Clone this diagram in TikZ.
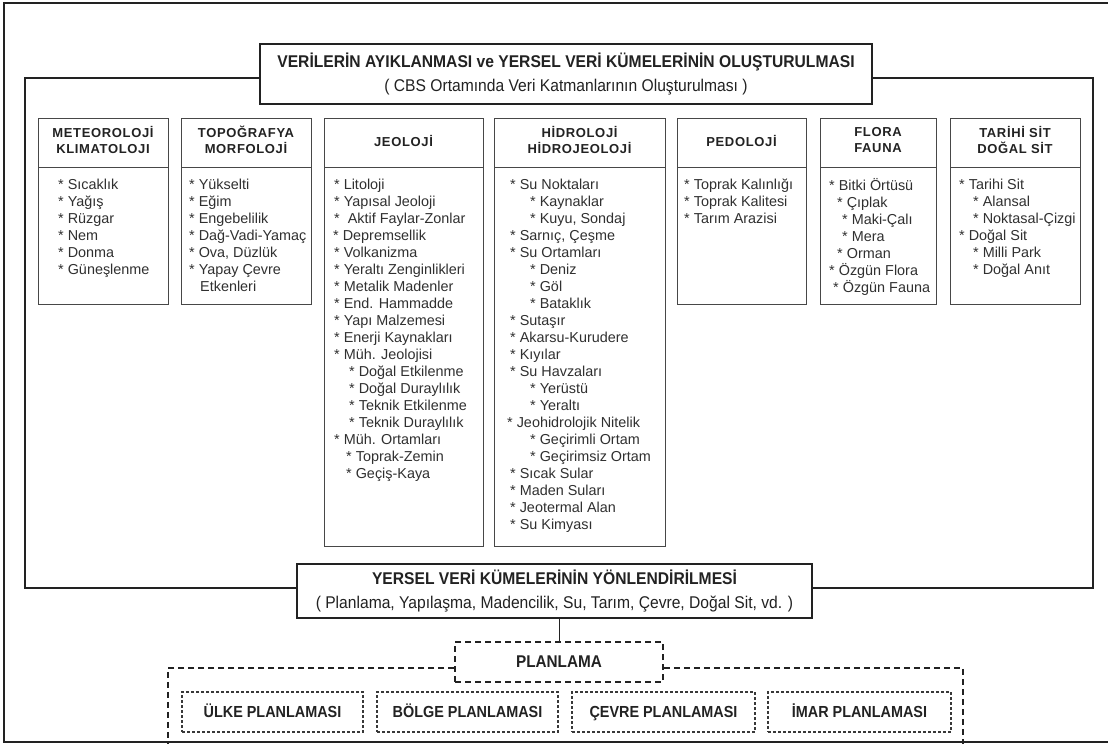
\documentclass[tikz,border=0pt]{standalone}
\usepackage{fontspec}
\setmainfont{Liberation Sans}
\newfontfamily\narrowfont[FakeStretch=0.92]{Liberation Sans}
\newfontfamily\planfont[FakeStretch=0.9]{Liberation Sans}
\newfontfamily\hdrfont[LetterSpace=5]{Liberation Sans}
\usetikzlibrary{calc}
\definecolor{ink}{HTML}{222222}
\definecolor{boxc}{HTML}{474747}
\definecolor{txt}{HTML}{303030}
\newcommand\fl{\rule{0pt}{11pt}}
\newcommand\ind[1]{\hspace*{#1pt}}
\tikzset{
  colbox/.style={draw=boxc, line width=0.9pt, fill=white, inner sep=0pt, anchor=north west},
  hdr/.style={font=\hdrfont\bfseries\fontsize{13}{15.5}\selectfont, align=center, text=ink, inner sep=0pt},
  lst/.style={anchor=north west, inner sep=0pt, align=left, text=txt, font=\fontsize{14.4}{17}\selectfont},
  mainbox/.style={draw=ink, line width=1.8pt, fill=white, align=center, text=ink, inner sep=0pt, font=\narrowfont\fontsize{17}{24}\selectfont},
  bigdash/.style={draw=ink, line width=1.8pt, dash pattern=on 6pt off 4pt},
  smalldash/.style={draw=ink!90, line width=1.2pt, dash pattern=on 3pt off 2pt},
  planbox/.style={bigdash, fill=white, inner sep=0pt, text=ink, font=\planfont\bfseries\fontsize{17}{20}\selectfont},
  subbox/.style={smalldash, fill=white, inner sep=0pt, minimum height=40pt, text height=11.5pt, text depth=0pt, text=ink, font=\planfont\bfseries\fontsize{16}{19}\selectfont},
  divline/.style={draw=boxc, line width=0.9pt}
}
\begin{document}
\begin{tikzpicture}[x=1pt,y=-1pt]
\useasboundingbox (0,0) rectangle (1108,744);
% outer border of the screenshot
\draw[ink, line width=1.5pt] (1108,3) -- (4,3) -- (4,742) -- (1108,742);
% large frame
\draw[ink, line width=2pt] (25,78) rectangle (1093,588);
% title box
\node[mainbox, minimum width=612pt, minimum height=60pt] (title) at (566,74)
  {{\bfseries VERİLERİN AYIKLANMASI ve YERSEL VERİ KÜMELERİNİN OLUŞTURULMASI}\\( CBS Ortamında Veri Katmanlarının Oluşturulması )};
% columns
\node[colbox, minimum width=130pt, minimum height=186pt] (c1) at (38,118) {};
\node[colbox, minimum width=130pt, minimum height=186pt] (c2) at (181,118) {};
\node[colbox, minimum width=159pt, minimum height=428pt] (c3) at (324,118) {};
\node[colbox, minimum width=171pt, minimum height=428pt] (c4) at (494,118) {};
\node[colbox, minimum width=129pt, minimum height=186pt] (c5) at (677,118) {};
\node[colbox, minimum width=116pt, minimum height=186pt] (c6) at (820,118) {};
\node[colbox, minimum width=130pt, minimum height=186pt] (c7) at (950,118) {};
\draw[divline] (38,167) -- (168,167);
\draw[divline] (181,167) -- (311,167);
\draw[divline] (324,167) -- (483,167);
\draw[divline] (494,167) -- (665,167);
\draw[divline] (677,167) -- (806,167);
\draw[divline] (820,167) -- (936,167);
\draw[divline] (950,167) -- (1080,167);
% headers
\node[hdr] (h1) at (103,140) {METEOROLOJİ\\KLIMATOLOJI};
\node[hdr] (h2) at (246,140) {TOPOĞRAFYA\\MORFOLOJİ};
\node[hdr] (h3) at (403.5,141) {JEOLOJİ};
\node[hdr] (h4) at (579.5,140) {HİDROLOJİ\\HİDROJEOLOJİ};
\node[hdr] (h5) at (741.5,141) {PEDOLOJİ};
\node[hdr] (h6) at (878,140) {FLORA\\FAUNA};
\node[hdr] (h7) at (1015,140) {TARİHİ SİT\\DOĞAL SİT};
% lists
\node[lst] (l1) at (58,178) {\fl* Sıcaklık\\* Yağış\\* Rüzgar\\* Nem\\* Donma\\* Güneşlenme};
\node[lst] (l2) at (189,178) {\fl* Yükselti\\* Eğim\\* Engebelilik\\* Dağ-Vadi-Yamaç\\* Ova, Düzlük\\* Yapay Çevre\\\ind{11}Etkenleri};
\node[lst] (l3) at (334,178) {\fl* Litoloji\\* Yapısal Jeoloji\\*\ \ Aktif Faylar-Zonlar\\\ind{-1}* Depremsellik\\* Volkanizma\\* Yeraltı Zenginlikleri\\* Metalik Madenler\\* End. Hammadde\\* Yapı Malzemesi\\* Enerji Kaynakları\\* Müh. Jeolojisi\\\ind{15}* Doğal Etkilenme\\\ind{15}* Doğal Duraylılık\\\ind{15}* Teknik Etkilenme\\\ind{15}* Teknik Duraylılık\\* Müh. Ortamları\\\ind{12}* Toprak-Zemin\\\ind{12}* Geçiş-Kaya};
\node[lst] (l4) at (510,178) {\fl* Su Noktaları\\\ind{20}* Kaynaklar\\\ind{20}* Kuyu, Sondaj\\* Sarnıç, Çeşme\\* Su Ortamları\\\ind{20}* Deniz\\\ind{20}* Göl\\\ind{20}* Bataklık\\* Sutaşır\\* Akarsu-Kurudere\\* Kıyılar\\* Su Havzaları\\\ind{20}* Yerüstü\\\ind{20}* Yeraltı\\\ind{-3}* Jeohidrolojik Nitelik\\\ind{20}* Geçirimli Ortam\\\ind{20}* Geçirimsiz Ortam\\* Sıcak Sular\\* Maden Suları\\* Jeotermal Alan\\* Su Kimyası};
\node[lst] (l5) at (684,178) {\fl* Toprak Kalınlığı\\* Toprak Kalitesi\\* Tarım Arazisi};
\node[lst] (l6) at (829,178) {\fl* Bitki Örtüsü\\\ind{8}* Çıplak\\\ind{13}* Maki-Çalı\\\ind{13}* Mera\\\ind{8}* Orman\\* Özgün Flora\\\ind{4}* Özgün Fauna};
\node[lst] (l7) at (959,178) {\fl* Tarihi Sit\\\ind{14}* Alansal\\\ind{14}* Noktasal-Çizgi\\* Doğal Sit\\\ind{14}* Milli Park\\\ind{14}* Doğal Anıt};
% bottom main box
\node[mainbox, minimum width=515pt, minimum height=54pt] (yersel) at (554.5,591)
  {{\bfseries YERSEL VERİ KÜMELERİNİN YÖNLENDİRİLMESİ}\\( Planlama, Yapılaşma, Madencilik, Su, Tarım, Çevre, Doğal Sit, vd. )};
% planning
\node[planbox, minimum width=208pt, minimum height=40pt] (plan) at (559,662) {PLANLAMA};
\draw[ink, line width=1pt] (yersel.south -| plan.north) -- (plan.north);
\draw[bigdash] (plan.west |- 0,668) -- (168,668) -- (168,744);
\draw[bigdash] (plan.east |- 0,668) -- (963,668) -- (963,744);
\node[subbox, minimum width=181pt] (p1) at (272.5,712) {ÜLKE PLANLAMASI};
\node[subbox, minimum width=181pt] (p2) at (467.5,712) {BÖLGE PLANLAMASI};
\node[subbox, minimum width=183pt] (p3) at (663.5,712) {ÇEVRE PLANLAMASI};
\node[subbox, minimum width=183pt] (p4) at (859.5,712) {İMAR PLANLAMASI};
\end{tikzpicture}
\end{document}
